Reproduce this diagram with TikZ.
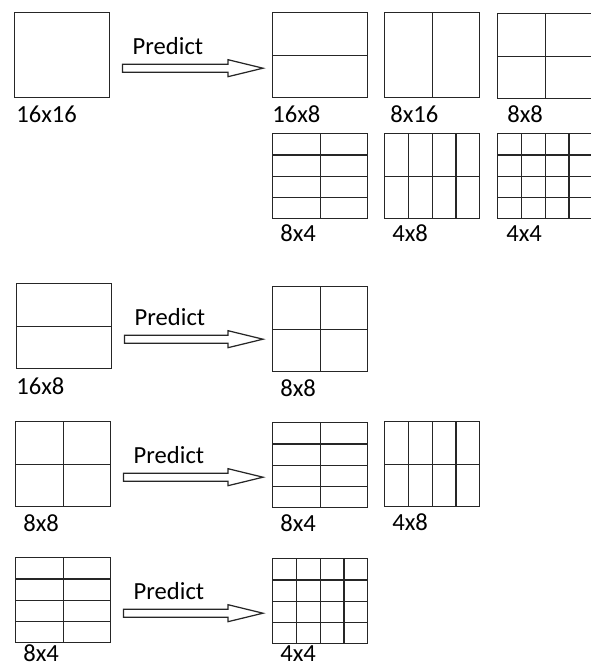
\documentclass[tikz,border=0pt]{standalone}
\usepackage{fontspec}
\setmainfont{Carlito}
\usetikzlibrary{calc}
\definecolor{linegray}{HTML}{262626}

\begin{document}
\begin{tikzpicture}[
  x=0.02cm, y=-0.02cm,
  % plain block frame
  blk/.style={draw=linegray, line width=0.8pt, minimum width=1.9cm,
              minimum height=1.7cm, inner sep=0pt, anchor=north west},
  % partition lines: #1 columns, #2 rows
  cells/.style 2 args={path picture={
      \foreach \i in {1,...,#1}
        \draw[linegray, line width=0.75pt]
          ($(path picture bounding box.north west)!{\i/#1}!(path picture bounding box.north east)$) --
          ($(path picture bounding box.south west)!{\i/#1}!(path picture bounding box.south east)$);
      \foreach \j in {1,...,#2}
        \draw[linegray, line width=0.75pt]
          ($(path picture bounding box.north west)!{\j/#2}!(path picture bounding box.south west)$) --
          ($(path picture bounding box.north east)!{\j/#2}!(path picture bounding box.south east)$);
  }},
  % size captions and arrow text
  lab/.style={anchor=base west, inner sep=0pt, font=\fontsize{14}{16}\selectfont},
  % outlined block arrow
  hollow/.style={draw=linegray, line width=0.7pt, fill=white, line join=miter},
]
\useasboundingbox (0,0) rectangle (591,666);

% ── 16x16 ─────────────────────────────────────
\node[blk] (src1) at (14,12) {};
\node[blk, cells={1}{2}] (dst1a) at (272,12) {};
\node[blk, cells={2}{1}] (dst1b) at (384,12) {};
\node[blk, cells={2}{2}] (dst1c) at (497,13) {};
\node[blk, cells={2}{4}] (dst1d) at (272,133) {};
\node[blk, cells={4}{2}] (dst1e) at (384,133) {};
\node[blk, cells={4}{4}] (dst1f) at (497,133) {};

% ── 16x8 ──────────────────────────────────────
\node[blk, cells={1}{2}] (src2) at (16,283) {};
\node[blk, cells={2}{2}] (dst2a) at (272,286) {};

% ── 8x8 ───────────────────────────────────────
\node[blk, cells={2}{2}] (src3) at (15,421) {};
\node[blk, cells={2}{4}] (dst3a) at (272,422) {};
\node[blk, cells={4}{2}] (dst3b) at (384,421) {};

% ── 8x4 ───────────────────────────────────────
\node[blk, cells={2}{4}] (src4) at (15,557) {};
\node[blk, cells={4}{4}] (dst4a) at (272,558) {};

% ── captions ──────────────────────────────────
\foreach \n/\t/\dx/\dy in {src1/16x16/2/24, dst1a/16x8/0/24, dst1b/8x16/6/24,
    dst1c/8x8/10/23, dst1d/8x4/8/22, dst1e/4x8/8/22, dst1f/4x4/9/22,
    src2/16x8/0/25, dst2a/8x8/8/24,
    src3/8x8/8/24, dst3a/8x4/8/23, dst3b/4x8/8/23,
    src4/8x4/8/18, dst4a/4x4/8/17} {
  \node[lab] (\n-lab) at ($(\n.south west)+(\dx,\dy)$) {\t};
}

% ── PREDICT ARROWS ────────────────────────────
\foreach \a/\b in {src1/dst1a, src2/dst2a, src3/dst3a, src4/dst4a} {
  \coordinate (\a-tip) at (\b.west |- \a.east);
  \draw[hollow] ($(\a.east)+(12,9)$) -- ($(\a-tip)+(-44,9)$) -- ($(\a-tip)+(-44,4.5)$)
    -- ($(\a-tip)+(-9,13)$) -- ($(\a-tip)+(-44,21.5)$) -- ($(\a-tip)+(-44,17)$)
    -- ($(\a.east)+(12,17)$) -- cycle;
  \node[lab] (\a-pred) at ($(\a.east)+(22,-1)$) {Predict};
}

\end{tikzpicture}
\end{document}
